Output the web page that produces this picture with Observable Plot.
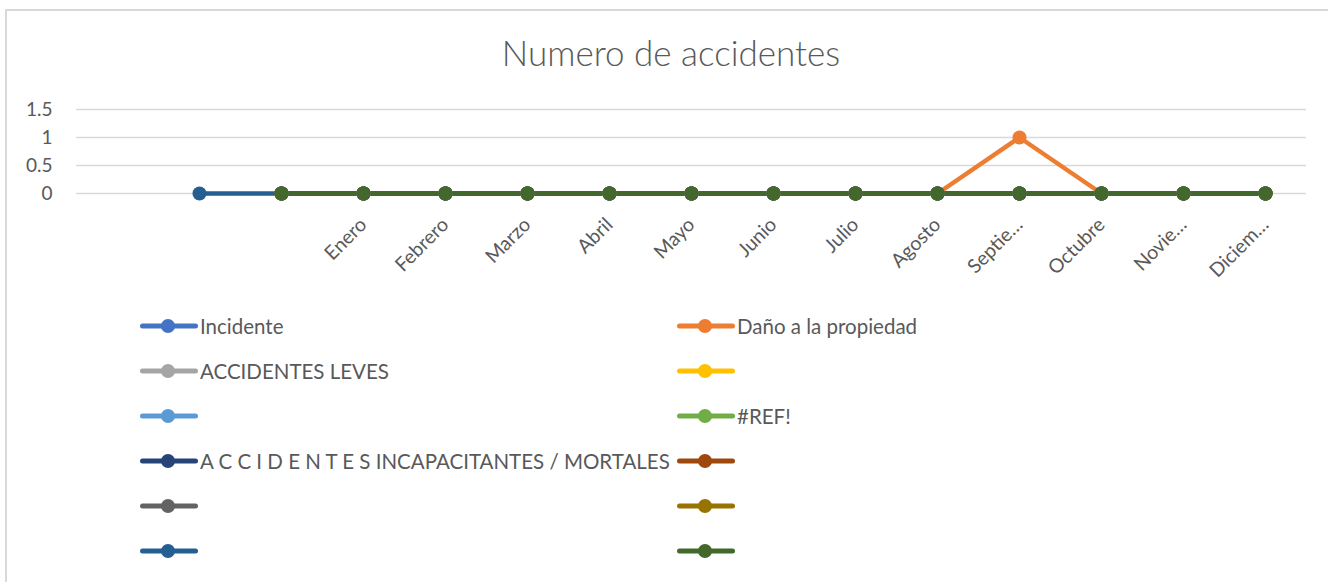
<!DOCTYPE html>
<html>
<head>
<meta charset="utf-8">
<script src="https://cdn.jsdelivr.net/npm/d3@7"></script>
<script src="https://cdn.jsdelivr.net/npm/@observablehq/plot@0.6"></script>
<style>
  html, body { margin: 0; padding: 0; background: #fff; }
  body { width: 1328px; height: 582px; position: relative; overflow: hidden; font-family: Lato, "Open Sans", sans-serif; }
  #frame { position: absolute; left: 5px; top: 9px; width: 1400px; height: 700px; border: 2px solid #d9d9d9; box-sizing: border-box; }
  #title { position: absolute; left: 0; width: 1342px; top: 31px; text-align: center; font-size: 35px; font-weight: 300; color: #595959; }
  #chart { position: absolute; left: 0; top: 90px; }
  #legend { position: absolute; left: 0; top: 0; }
  .item { position: absolute; display: flex; align-items: center; font-size: 20.5px; color: #595959; white-space: nowrap; }
  .item svg { display: block; }
</style>
</head>
<body>
<div id="frame"></div>
<div id="title">Numero de accidentes</div>
<div id="chart"></div>
<div id="legend"></div>
<script>
// Categories (three unlabeled leading categories, then months)
const categories = ["", " ", "  ", "Enero", "Febrero", "Marzo", "Abril", "Mayo", "Junio", "Julio", "Agosto", "Septiembre", "Octubre", "Noviembre", "Diciembre"];
const tickLabels = ["", "", "", "Enero", "Febrero", "Marzo", "Abril", "Mayo", "Junio", "Julio", "Agosto", "Septie…", "Octubre", "Novie…", "Diciem…"];
const yTicks = [0, 0.5, 1, 1.5];

// Series names (legend order)
const seriesNames = ["Incidente", "Daño a la propiedad", "ACCIDENTES LEVES", "", "", "#REF!", "A C C I D E N T E S INCAPACITANTES / MORTALES", "", "", "", "", ""];
const seriesColors = ["#4472C4", "#ED7D31", "#A5A5A5", "#FFC000", "#5B9BD5", "#70AD47", "#264478", "#9E480E", "#636363", "#997300", "#255E91", "#43682B"];

// Series values, one per category
const incidente        = [null, null, 0, 0, 0, 0, 0, 0, 0, 0, 0, 0, 0, 0, 0];
const danoPropiedad    = [null, null, 0, 0, 0, 0, 0, 0, 0, 0, 0, 1, 0, 0, 0];
const accidentesLeves  = [null, null, 0, 0, 0, 0, 0, 0, 0, 0, 0, 0, 0, 0, 0];
const serie4           = [null, null, 0, 0, 0, 0, 0, 0, 0, 0, 0, 0, 0, 0, 0];
const serie5           = [null, null, 0, 0, 0, 0, 0, 0, 0, 0, 0, 0, 0, 0, 0];
const refError         = [null, null, 0, 0, 0, 0, 0, 0, 0, 0, 0, 0, 0, 0, 0];
const incapacitantes   = [null, null, 0, 0, 0, 0, 0, 0, 0, 0, 0, 0, 0, 0, 0];
const serie8           = [null, null, 0, 0, 0, 0, 0, 0, 0, 0, 0, 0, 0, 0, 0];
const serie9           = [null, null, 0, 0, 0, 0, 0, 0, 0, 0, 0, 0, 0, 0, 0];
const serie10          = [null, null, 0, 0, 0, 0, 0, 0, 0, 0, 0, 0, 0, 0, 0];
const serie11          = [null, 0, 0, 0, 0, 0, 0, 0, 0, 0, 0, 0, 0, 0, 0];
const serie12          = [null, null, 0, 0, 0, 0, 0, 0, 0, 0, 0, 0, 0, 0, 0];

const seriesValues = [incidente, danoPropiedad, accidentesLeves, serie4, serie5, refError, incapacitantes, serie8, serie9, serie10, serie11, serie12];

const rows = [];
seriesValues.forEach((vals, s) => {
  vals.forEach((v, i) => {
    if (v !== null) rows.push({series: s, color: seriesColors[s], cat: categories[i], value: v});
  });
});

const chart = Plot.plot({
  width: 1328,
  height: 190,
  marginLeft: 76,
  marginRight: 22,
  marginTop: 19,
  marginBottom: 87,
  style: {fontFamily: "Lato, sans-serif", background: "transparent"},
  x: {type: "point", domain: categories, padding: 0.5},
  y: {domain: [0, 1.5]},
  marks: [
    Plot.ruleY(yTicks, {stroke: "#d9d9d9", strokeWidth: 1.5}),
    Plot.axisY({ticks: yTicks, tickSize: 0, tickPadding: 24, fontSize: 19, fill: "#595959", tickFormat: d => String(d), label: null}),
    Plot.axisX({tickSize: 0, tickRotate: -45, tickPadding: 28, fontSize: 19.5, fill: "#595959", label: null,
      tickFormat: d => tickLabels[categories.indexOf(d)]}),
    Plot.line(rows, {x: "cat", y: "value", z: "series", stroke: "color", strokeWidth: 4.5, strokeLinecap: "round", strokeLinejoin: "round"}),
    Plot.dot(rows, {x: "cat", y: "value", fill: "color", r: 7, stroke: null})
  ]
});
document.getElementById("chart").appendChild(chart);

// Legend: two columns, row-wise fill
const legend = document.getElementById("legend");
const colX = [140, 677];
const rowY0 = 326, rowStep = 45;
seriesNames.forEach((name, s) => {
  const col = s % 2, row = Math.floor(s / 2);
  const div = document.createElement("div");
  div.className = "item";
  div.style.left = colX[col] + "px";
  div.style.top = (rowY0 + row * rowStep - 12) + "px";
  div.style.height = "24px";
  const c = seriesColors[s];
  div.innerHTML = `<svg width="58" height="24"><line x1="2.5" y1="12" x2="55.5" y2="12" stroke="${c}" stroke-width="5" stroke-linecap="round"/><circle cx="28" cy="12" r="7" fill="${c}"/></svg><span style="margin-left:2px">${name}</span>`;
  legend.appendChild(div);
});
</script>
</body>
</html>
